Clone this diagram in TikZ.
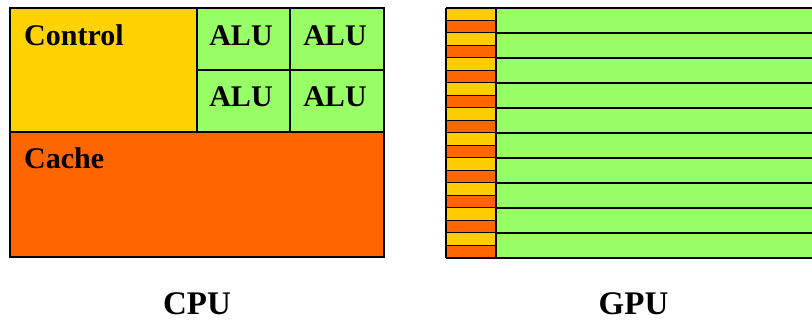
\documentclass[tikz,border=0pt]{standalone}
\usepackage{fontspec}
\setmainfont{Liberation Serif}
\definecolor{ctrlyellow}{RGB}{255,210,0}
\definecolor{stripyellow}{RGB}{255,204,0}
\definecolor{cacheorange}{RGB}{255,102,0}
\definecolor{alugreen}{RGB}{153,255,102}
\tikzset{
  blk/.style={draw=black, line width=1.6pt},
  thin blk/.style={draw=black, line width=0.9pt},
  lbl/.style={inner sep=0pt, font=\fontsize{30}{36}\selectfont\bfseries},
  title/.style={inner sep=0pt, text depth=0pt, font=\fontsize{33}{40}\selectfont\bfseries},
}
\begin{document}
\begin{tikzpicture}[x=1pt,y=1pt]
\useasboundingbox (0,0) rectangle (812,323);
% ---------- CPU ----------
\fill[ctrlyellow] (10,191) rectangle (197,315);
\fill[alugreen] (197,191) rectangle (384,315);
\fill[cacheorange] (10,66) rectangle (384,191);
\draw[blk] (197,191) -- (197,315);
\draw[blk] (290,191) -- (290,315);
\draw[blk] (197,253) -- (384,253);
\draw[blk] (10,191) -- (384,191);
\draw[blk] (10,66) rectangle (384,315);
\node[lbl, anchor=base west] (control) at (24,277) {Control};
\node[lbl, anchor=base] (alu1) at (241,277) {ALU};
\node[lbl, anchor=base] (alu2) at (335,277) {ALU};
\node[lbl, anchor=base] (alu3) at (241,216) {ALU};
\node[lbl, anchor=base] (alu4) at (335,216) {ALU};
\node[lbl, anchor=base west] (cache) at (24,154) {Cache};
% ---------- GPU ----------
\fill[alugreen] (496,65) rectangle (816,315);
\foreach \i in {0,...,9}{
  \pgfmathsetmacro{\top}{315-25*\i}
  \pgfmathsetmacro{\mid}{\top-12.5}
  \pgfmathsetmacro{\bot}{\top-25}
  \fill[stripyellow] (446,\mid) rectangle (496,\top);
  \fill[cacheorange] (446,\bot) rectangle (496,\mid);
  \draw[thin blk] (446,\mid) -- (496,\mid);
  \draw[blk] (446,\bot) -- (816,\bot);
}
\draw[blk] (446,315) -- (816,315);
\draw[blk] (446,65) -- (446,315);
\draw[blk] (496,65) -- (496,315);
% ---------- titles ----------
\node[title, anchor=base] (cpu) at (197,8) {CPU};
\node[title, anchor=base] (gpu) at (633.5,8) {GPU};
\end{tikzpicture}
\end{document}
